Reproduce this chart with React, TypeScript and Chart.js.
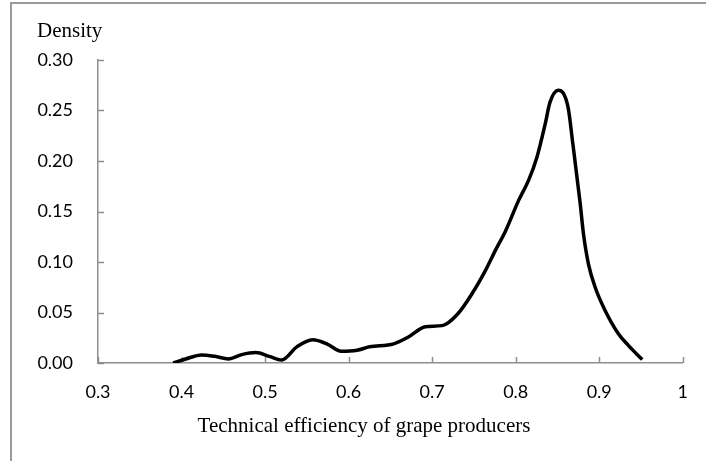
import React, { useEffect, useRef } from "react";
import { Chart, registerables } from "chart.js";

Chart.register(...registerables);

const efficiency = [
  0.390, 0.405, 0.424, 0.440, 0.456, 0.472, 0.489, 0.505, 0.520, 0.538,
  0.557, 0.575, 0.591, 0.610, 0.625, 0.654, 0.672, 0.692, 0.712, 0.730,
  0.748, 0.764, 0.776, 0.788, 0.8035, 0.8155, 0.8255, 0.8354, 0.841, 0.851,
  0.8626, 0.8684, 0.8772, 0.8811, 0.8871, 0.8951, 0.907, 0.9229, 0.9348, 0.9515,
];
const density = [
  0.000, 0.004, 0.008, 0.0066, 0.004, 0.0083, 0.0103, 0.0066, 0.003, 0.016,
  0.023, 0.0185, 0.0116, 0.0126, 0.016, 0.019, 0.026, 0.036, 0.037, 0.048,
  0.069, 0.092, 0.112, 0.131, 0.161, 0.181, 0.204, 0.237, 0.258, 0.270,
  0.2535, 0.217, 0.158, 0.128, 0.098, 0.075, 0.052, 0.029, 0.0175, 0.0034,
];
const xTickValues = [0.3, 0.4, 0.5, 0.6, 0.7, 0.8, 0.9, 1.0];
const yTickValues = [0, 0.05, 0.1, 0.15, 0.2, 0.25, 0.3];
const yTitle = "Density";
const xTitle = "Technical efficiency of grape producers";

const AXIS = "#8e8e8e";
const SERIF = "'Liberation Serif', 'Times New Roman', serif";
const SANS = "Lato, 'Open Sans', sans-serif";

const annotations = {
  id: "annotations",
  beforeDatasetsDraw(chart: any) {
    const { ctx, scales } = chart;
    const x = scales.x;
    const y = scales.y;
    ctx.save();
    ctx.strokeStyle = AXIS;
    ctx.lineWidth = 1.5;
    ctx.beginPath();
    for (const v of xTickValues) {
      const px = Math.round(x.getPixelForValue(v)) + 0.5;
      ctx.moveTo(px, y.bottom);
      ctx.lineTo(px, y.bottom - 6);
    }
    for (const v of yTickValues) {
      const py = Math.round(y.getPixelForValue(v)) + 0.5;
      ctx.moveTo(x.left, py);
      ctx.lineTo(x.left + 6, py);
    }
    ctx.stroke();
    ctx.restore();
  },
  afterDraw(chart: any) {
    const { ctx } = chart;
    ctx.save();
    ctx.fillStyle = "#000";
    ctx.font = `21px ${SERIF}`;
    ctx.textBaseline = "alphabetic";
    ctx.textAlign = "left";
    ctx.fillText(yTitle, 37, 37);
    ctx.textAlign = "center";
    ctx.fillText(xTitle, 364, 432);
    ctx.restore();
  },
};

export default function App() {
  const ref = useRef<HTMLCanvasElement | null>(null);

  useEffect(() => {
    document.body.style.margin = "0";
    const canvas = ref.current;
    if (!canvas) return;
    const chart = new Chart(canvas, {
      type: "line",
      data: {
        datasets: [
          {
            data: efficiency.map((e, i) => ({ x: e, y: density[i] })),
            borderColor: "#000",
            borderWidth: 3.5,
            pointRadius: 0,
            fill: false,
            cubicInterpolationMode: "monotone",
          },
        ],
      },
      options: {
        animation: false,
        responsive: false,
        events: [],
        layout: { padding: { left: 0, top: 60, right: 21, bottom: 0 } },
        plugins: {
          legend: { display: false },
          tooltip: { enabled: false },
          title: { display: false },
        },
        scales: {
          x: {
            type: "linear",
            min: 0.3,
            max: 1,
            afterBuildTicks: (s: any) => {
              s.ticks = xTickValues.map((v) => ({ value: v }));
            },
            ticks: {
              color: "#000",
              font: { family: SANS, size: 18 },
              padding: 18,
              maxRotation: 0,
              callback: (v: any) => String(Number(v)),
            },
            grid: { display: false, drawTicks: false },
            border: { display: true, color: AXIS, width: 1.5 },
            title: { display: false },
            afterFit: (s: any) => {
              s.height = 98;
            },
          },
          y: {
            type: "linear",
            min: 0,
            max: 0.3,
            afterBuildTicks: (s: any) => {
              s.ticks = yTickValues.map((v) => ({ value: v }));
            },
            ticks: {
              color: "#000",
              font: { family: SANS, size: 18 },
              padding: 25,
              callback: (v: any) => Number(v).toFixed(2),
            },
            grid: { display: false, drawTicks: false },
            border: { display: true, color: AXIS, width: 1.5 },
            afterFit: (s: any) => {
              s.width = 98;
            },
          },
        },
      },
      plugins: [annotations],
    });
    return () => chart.destroy();
  }, []);

  return (
    <div
      style={{
        position: "relative",
        width: 706,
        height: 461,
        overflow: "hidden",
        background: "#fff",
      }}
    >
      <div
        style={{
          position: "absolute",
          left: 10,
          top: 2,
          width: 1200,
          height: 1200,
          border: "2px solid #9a9a9a",
          boxSizing: "border-box",
        }}
      />
      <canvas
        ref={ref}
        width={706}
        height={461}
        style={{ position: "absolute", left: 0, top: 0 }}
      />
    </div>
  );
}
